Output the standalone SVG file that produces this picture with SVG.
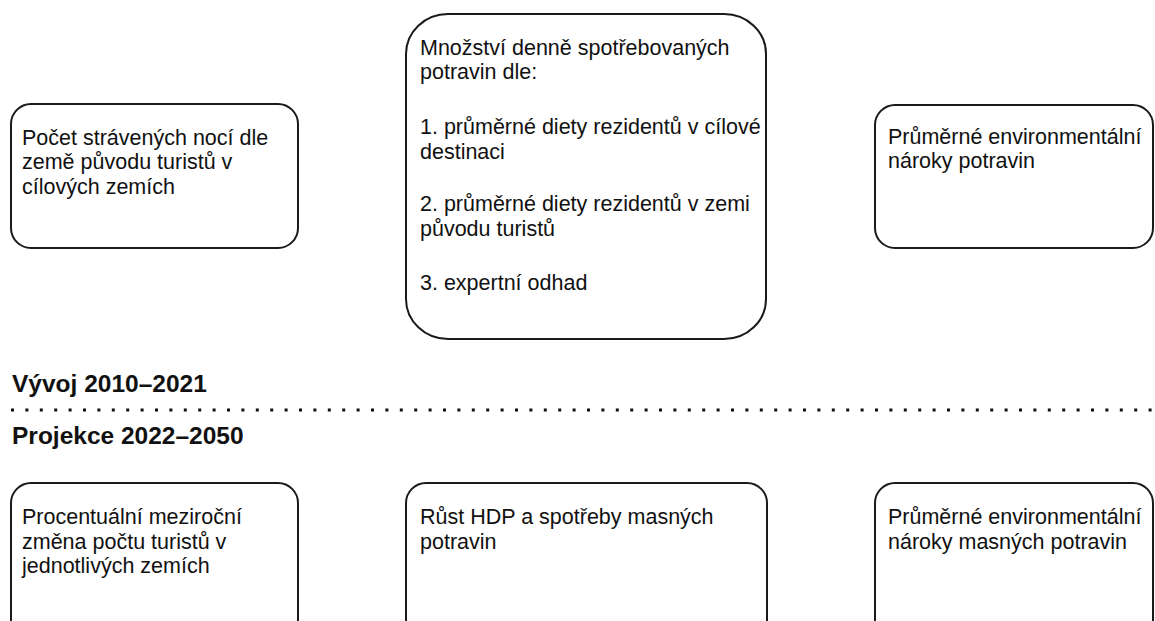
<svg xmlns="http://www.w3.org/2000/svg" width="1155" height="621" viewBox="0 0 1155 621">
  <style>
    .box { fill: #ffffff; stroke: #1a1a1a; stroke-width: 2; }
    .t { font-family: "Liberation Sans", Arial, sans-serif; font-size: 21.5px; fill: #111111; }
    .h { font-family: "Liberation Sans", Arial, sans-serif; font-size: 24.5px; font-weight: bold; fill: #111111; }
    .sep { stroke: #111111; stroke-width: 3; stroke-dasharray: 3 11.4; fill: none; }
  </style>
  <rect width="1155" height="621" fill="#ffffff"/>

  <g id="node-nights">
    <rect class="box" x="11" y="104" width="287" height="144" rx="20" ry="20"/>
    <text class="t" x="22" y="145">Počet strávených nocí dle</text>
    <text class="t" x="22" y="169">země původu turistů v</text>
    <text class="t" x="22" y="194">cílových zemích</text>
  </g>

  <g id="node-food-amount">
    <rect class="box" x="406" y="14" width="360" height="325" rx="42" ry="40"/>
    <text class="t" x="420" y="55">Množství denně spotřebovaných</text>
    <text class="t" x="420" y="79">potravin dle:</text>
    <text class="t" x="420" y="134">1. průměrné diety rezidentů v cílové</text>
    <text class="t" x="420" y="159">destinaci</text>
    <text class="t" x="420" y="211">2. průměrné diety rezidentů v zemi</text>
    <text class="t" x="420" y="236">původu turistů</text>
    <text class="t" x="420" y="290">3. expertní odhad</text>
  </g>

  <g id="node-env">
    <rect class="box" x="875" y="105" width="278" height="143" rx="20" ry="20"/>
    <text class="t" x="888" y="144">Průměrné environmentální</text>
    <text class="t" x="888" y="168">nároky potravin</text>
  </g>

  <g id="section-labels">
    <text class="h" x="12" y="392">Vývoj 2010–2021</text>
    <text class="h" x="12" y="444">Projekce 2022–2050</text>
  </g>

  <g id="connectors">
    <line class="sep" x1="11" y1="410" x2="1155" y2="410"/>
  </g>

  <g id="node-tourist-change">
    <rect class="box" x="11" y="483" width="287" height="160" rx="20" ry="20"/>
    <text class="t" x="22" y="524">Procentuální meziroční</text>
    <text class="t" x="22" y="549">změna počtu turistů v</text>
    <text class="t" x="22" y="573">jednotlivých zemích</text>
  </g>

  <g id="node-gdp">
    <rect class="box" x="406" y="483" width="361" height="160" rx="20" ry="20"/>
    <text class="t" x="420" y="524">Růst HDP a spotřeby masných</text>
    <text class="t" x="420" y="549">potravin</text>
  </g>

  <g id="node-env-meat">
    <rect class="box" x="875" y="483" width="278" height="160" rx="20" ry="20"/>
    <text class="t" x="888" y="524">Průměrné environmentální</text>
    <text class="t" x="888" y="549">nároky masných potravin</text>
  </g>
</svg>
